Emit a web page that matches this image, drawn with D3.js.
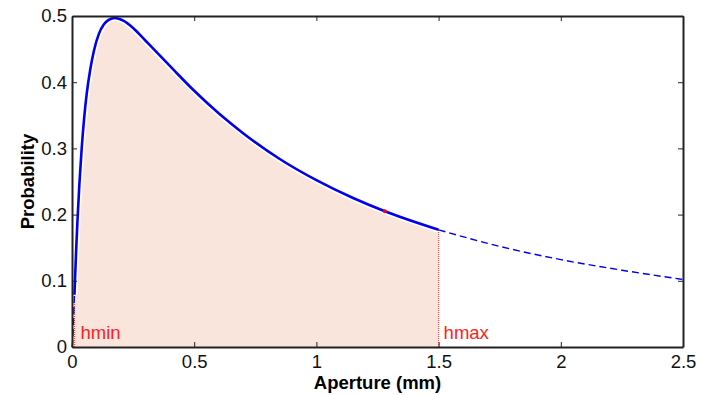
<!DOCTYPE html>
<html>
<head>
<meta charset="utf-8">
<script src="https://cdn.jsdelivr.net/npm/d3@7"></script>
<style>
  body { margin: 0; background: #fff; }
  text { font-family: "Liberation Sans", Arial, sans-serif; }
</style>
</head>
<body>
<svg id="chart" width="703" height="395"></svg>
<script>
// values
const aperture = [0, 0.003, 0.006, 0.01, 0.013, 0.017, 0.022, 0.03, 0.04, 0.05, 0.06, 0.075, 0.09, 0.11,
  0.13, 0.15, 0.176, 0.21, 0.25, 0.3, 0.35, 0.42, 0.5, 0.6, 0.7, 0.85, 1.0, 1.15, 1.28, 1.5, 1.75, 2.0, 2.25, 2.5];
const probability = [0, 0.012, 0.039, 0.079, 0.108, 0.146, 0.188, 0.245, 0.302, 0.347, 0.382, 0.42, 0.448, 0.473,
  0.487, 0.494, 0.497, 0.493, 0.482, 0.463, 0.444, 0.417, 0.387, 0.353, 0.323, 0.284, 0.252, 0.225, 0.205, 0.177, 0.152, 0.132, 0.116, 0.102];
const hmin = 0.01;
const hmax = 1.5;
const markX = 1.28;
const xTicks = [0, 0.5, 1, 1.5, 2, 2.5];
const yTicks = [0, 0.1, 0.2, 0.3, 0.4, 0.5];

const margin = { left: 72, top: 16, right: 20, bottom: 48 };
const width = 703 - margin.left - margin.right;
const height = 395 - margin.top - margin.bottom;

const svg = d3.select("#chart");
const g = svg.append("g").attr("transform", `translate(${margin.left},${margin.top})`);

const x = d3.scaleLinear().domain([0, 2.5]).range([0, width]);
const y = d3.scaleLinear().domain([0, 0.5]).range([height, 0]);

const pts = aperture.map((a, i) => ({ x: a, y: probability[i] }));
const inside = pts.filter(d => d.x >= hmin && d.x <= hmax);
const low = pts.filter(d => d.x <= hmin);
const high = pts.filter(d => d.x >= hmax);
const yAt = v => pts.find(d => d.x === v).y;

const line = d3.line().curve(d3.curveMonotoneX).x(d => x(d.x)).y(d => y(d.y));
const area = d3.area().curve(d3.curveMonotoneX).x(d => x(d.x)).y0(y(0)).y1(d => y(d.y));

// shaded region
g.append("path").datum(inside).attr("d", area).attr("fill", "#fae5dc");

// red dotted limits
[hmin, hmax].forEach(v => {
  g.append("line")
    .attr("x1", x(v)).attr("x2", x(v))
    .attr("y1", y(0)).attr("y2", y(yAt(v)))
    .attr("stroke", "#ff3030").attr("stroke-width", 1)
    .attr("stroke-dasharray", "1,1");
});

// curve
g.append("path").datum(inside).attr("d", line)
  .attr("fill", "none").attr("stroke", "#fff").attr("stroke-width", 6);
g.append("path").datum(inside).attr("d", line)
  .attr("fill", "none").attr("stroke", "#0000ee").attr("stroke-width", 2.6);
[low, high].forEach(seg => {
  g.append("path").datum(seg).attr("d", line)
    .attr("fill", "none").attr("stroke", "#0000ee").attr("stroke-width", 1.4)
    .attr("stroke-dasharray", "7,4");
});

g.append("circle")
  .attr("cx", x(markX)).attr("cy", y(yAt(markX))).attr("r", 2)
  .attr("fill", "#ff0000");

g.append("text").attr("x", x(hmin) + 6).attr("y", y(0) - 8)
  .attr("fill", "#ff2020").attr("font-size", 18.5).text("hmin");
g.append("text").attr("x", x(hmax) + 5).attr("y", y(0) - 8)
  .attr("fill", "#ff2020").attr("font-size", 18.5).text("hmax");

// axes (ticks point inward, box all round)
g.append("g").attr("transform", `translate(0,${height})`)
  .call(d3.axisBottom(x).tickValues(xTicks).tickSizeInner(-5).tickSizeOuter(0).tickPadding(8).tickFormat(d3.format("")));
g.append("g")
  .call(d3.axisLeft(y).tickValues(yTicks).tickSizeInner(-5).tickSizeOuter(0).tickPadding(5).tickFormat(d3.format("")));
g.append("g").call(d3.axisTop(x).tickValues(xTicks).tickSizeInner(-5).tickSizeOuter(0).tickFormat(""));
g.append("g").attr("transform", `translate(${width},0)`)
  .call(d3.axisRight(y).tickValues(yTicks).tickSizeInner(-5).tickSizeOuter(0).tickFormat(""));

g.selectAll(".domain").attr("stroke", "#222").attr("stroke-width", 2);
g.selectAll(".tick line").attr("stroke", "#222");
g.selectAll(".tick text").attr("font-size", 18.5).attr("fill", "#111")
  .attr("font-family", "Liberation Sans, Arial, sans-serif");

g.append("text").attr("x", width / 2).attr("y", height + 42)
  .attr("text-anchor", "middle").attr("font-size", 18.5).attr("font-weight", "bold")
  .text("Aperture (mm)");
g.append("text").attr("transform", `translate(-38,${height / 2}) rotate(-90)`)
  .attr("text-anchor", "middle").attr("font-size", 18.5).attr("font-weight", "bold")
  .text("Probability");
</script>
</body>
</html>
